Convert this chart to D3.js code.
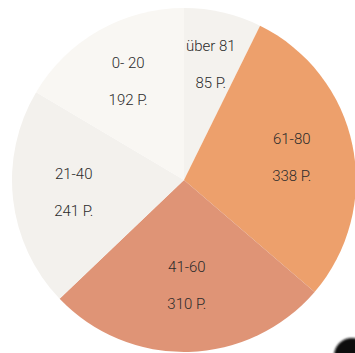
<!DOCTYPE html>
<html>
<head>
<meta charset="utf-8">
<script src="https://cdn.jsdelivr.net/npm/d3@7"></script>
<style>
  html, body { margin: 0; padding: 0; background: #ffffff; }
  svg { display: block; }
</style>
</head>
<body>
<div id="chart"></div>
<script>
// Altersgruppen und Anzahl Personen, im Uhrzeigersinn ab 12 Uhr
const categories = ["über 81", "61-80", "41-60", "21-40", "0- 20"];
const values = [85, 338, 310, 241, 192];
const valueLabels = ["85 P.", "338 P.", "310 P.", "241 P.", "192 P."];

const colors = ["#f4f2ee", "#eda06c", "#df9476", "#f3f1ed", "#f9f7f3"];
// Abstand der Beschriftung vom Mittelpunkt, je Segment
const labelRadii = [118, 110, 106, 111, 113];

const width = 355, height = 353;
const cx = 184, cy = 180, radius = 172;

const svg = d3.select("#chart").append("svg")
  .attr("width", width).attr("height", height);

const data = categories.map((c, i) => ({ cat: c, value: values[i], text: valueLabels[i], i }));

const pie = d3.pie().value(d => d.value).sort(null);
const arcs = pie(data);
const arc = d3.arc().innerRadius(0).outerRadius(radius);

const g = svg.append("g").attr("transform", `translate(${cx},${cy})`);

g.selectAll("path.slice")
  .data(arcs)
  .join("path")
  .attr("class", "slice")
  .attr("d", arc)
  .attr("fill", d => colors[d.data.i]);

const labels = g.selectAll("g.label")
  .data(arcs)
  .join("g")
  .attr("class", "label")
  .attr("transform", d => {
    const r = labelRadii[d.data.i];
    const c = d3.arc().innerRadius(r).outerRadius(r).centroid(d);
    return `translate(${c[0]},${c[1]})`;
  });

labels.append("text")
  .attr("text-anchor", "middle")
  .attr("y", -14)
  .attr("font-family", "Roboto, sans-serif")
  .attr("font-weight", 300)
  .attr("font-size", 15)
  .attr("fill", "#2b2b2b")
  .text(d => d.data.cat);

labels.append("text")
  .attr("text-anchor", "middle")
  .attr("y", 23)
  .attr("font-family", "Roboto, sans-serif")
  .attr("font-weight", 300)
  .attr("font-size", 15)
  .attr("fill", "#2b2b2b")
  .text(d => d.data.text);

// dunkle Randfigur unten rechts
const defs = svg.append("defs");
defs.append("filter").attr("id", "soft")
  .append("feGaussianBlur").attr("stdDeviation", 0.8);
svg.append("ellipse")
  .attr("cx", 352).attr("cy", 356)
  .attr("rx", 18).attr("ry", 18)
  .attr("fill", "#111")
  .attr("filter", "url(#soft)");
</script>
</body>
</html>
